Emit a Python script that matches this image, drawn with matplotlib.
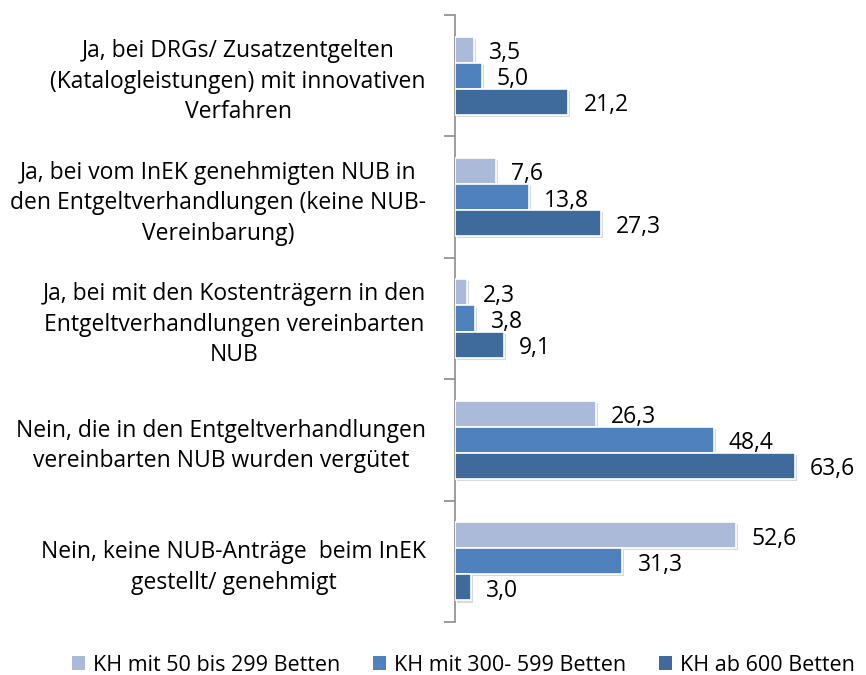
import matplotlib
matplotlib.use("Agg")
import matplotlib.pyplot as plt
import matplotlib.patheffects as pe
import numpy as np

categories = [
    "Ja, bei DRGs/ Zusatzentgelten\n(Katalogleistungen) mit innovativen\nVerfahren",
    "Ja, bei vom InEK genehmigten NUB in\nden Entgeltverhandlungen (keine NUB-\nVereinbarung)",
    "Ja, bei mit den Kostenträgern in den\nEntgeltverhandlungen vereinbarten\nNUB",
    "Nein, die in den Entgeltverhandlungen\nvereinbarten NUB wurden vergütet",
    "Nein, keine NUB-Anträge  beim InEK\ngestellt/ genehmigt",
]
series_names = ["KH mit 50 bis 299 Betten", "KH mit 300- 599 Betten", "KH ab 600 Betten"]
kh_50_299 = [3.5, 7.6, 2.3, 26.3, 52.6]
kh_300_599 = [5.0, 13.8, 3.8, 48.4, 31.3]
kh_ab_600 = [21.2, 27.3, 9.1, 63.6, 3.0]
colors = ["#AABAD8", "#4F81BD", "#3F6A9C"]

plt.rcParams["font.family"] = ["Open Sans", "DejaVu Sans"]

fig = plt.figure(figsize=(8.66, 6.75), dpi=100)
W, H = 866, 675
ax = fig.add_axes([455 / W, 1 - 622 / H, (829 - 455) / W, (622 - 15) / H])

y = np.arange(len(categories))
bh = 0.215
shadow = [pe.SimplePatchShadow(offset=(1.5, -1.5), shadow_rgbFace="#000000", alpha=0.15),
          pe.Normal()]

for k, (vals, col) in enumerate(zip([kh_50_299, kh_300_599, kh_ab_600], colors)):
    pos = y + (k - 1) * bh
    bars = ax.barh(pos, vals, height=bh, color=col, edgecolor="white", linewidth=1.2,
                   label=series_names[k], zorder=3)
    for b in bars:
        b.set_path_effects(shadow)
    for p, v in zip(pos, vals):
        ax.annotate(f"{v:.1f}".replace(".", ","), xy=(v, p), xytext=(11, -2.5),
                    textcoords="offset points", ha="left", va="center",
                    fontsize=16.5, color="black")

ax.set_xlim(0, 70)
ax.set_ylim(len(categories) - 0.5, -0.5)

for s in ["top", "right", "bottom"]:
    ax.spines[s].set_visible(False)
ax.spines["left"].set_color("#8C8C8C")
ax.spines["left"].set_linewidth(1.2)
ax.set_xticks([])

ax.set_yticks(y)
ax.set_yticklabels(categories, fontsize=16.5, ha="right", multialignment="center",
                   linespacing=1.36)
ax.tick_params(axis="y", which="major", length=0, pad=21)
ax.set_yticks(np.arange(-0.5, len(categories)), minor=True)
ax.tick_params(axis="y", which="minor", length=8, color="#8C8C8C", width=1.2, direction="out")

handles, labels = ax.get_legend_handles_labels()
leg = fig.legend(handles, labels, loc="lower center", bbox_to_anchor=(0.535, -0.03),
                 ncol=3, frameon=False, fontsize=15.5, handlelength=0.6, handleheight=0.6,
                 handletextpad=0.4, columnspacing=1.5)
for p in leg.get_patches():
    p.set_path_effects([])
    p.set_edgecolor("none")

fig.savefig("out.png", dpi=100)
